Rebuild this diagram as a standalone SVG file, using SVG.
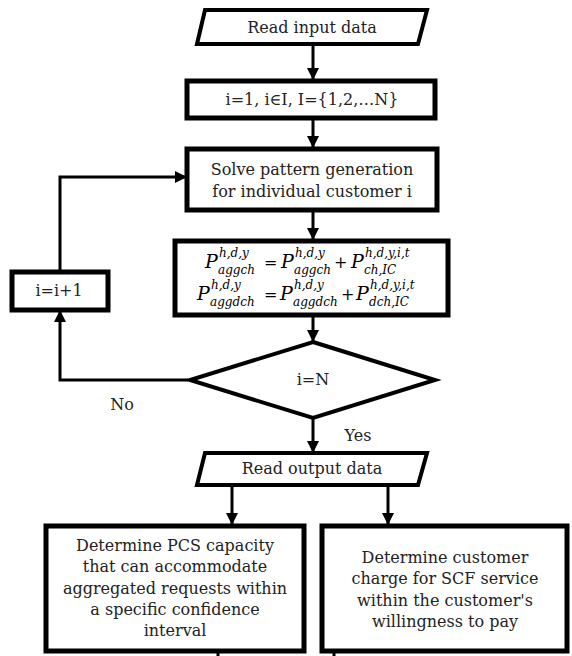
<svg xmlns="http://www.w3.org/2000/svg" width="572" height="656" viewBox="0 0 572 656">
<style>
.box{fill:#fff;stroke:#000;stroke-width:5}
.shape{fill:#fff;stroke:#000;stroke-width:4;stroke-linejoin:miter}
.line{fill:none;stroke:#000;stroke-width:3}
.t{font-family:"DejaVu Serif","Liberation Serif",serif;font-size:16px;fill:#222;text-anchor:middle}
.m{font-family:"DejaVu Serif","Liberation Serif",serif;font-style:italic;fill:#000}
.P{font-size:19px}
.s{font-size:12px}
.op{font-style:normal;font-size:16px}
</style>
<defs>
<marker id="ahb" markerWidth="12" markerHeight="12" refX="11" refY="6" orient="auto" markerUnits="userSpaceOnUse" viewBox="0 0 12 12">
<path d="M0,0 L12,6 L0,12 Z" fill="#000"/>
</marker>
</defs>
<g id="connectors">
<line class="line" x1="313" y1="44" x2="313" y2="79" marker-end="url(#ahb)"/>
<line class="line" x1="313" y1="118" x2="313" y2="147" marker-end="url(#ahb)"/>
<line class="line" x1="313" y1="210" x2="313" y2="239" marker-end="url(#ahb)"/>
<line class="line" x1="313" y1="315" x2="313" y2="341" marker-end="url(#ahb)"/>
<line class="line" x1="313" y1="418" x2="313" y2="452" marker-end="url(#ahb)"/>
<line class="line" x1="232" y1="485" x2="232" y2="524" marker-end="url(#ahb)"/>
<line class="line" x1="388" y1="485" x2="388" y2="524" marker-end="url(#ahb)"/>
<polyline class="line" points="188,380 60,380 60,311" marker-end="url(#ahb)"/>
<polyline class="line" points="60,270 60,177 186,177" marker-end="url(#ahb)"/>
<line class="line" x1="218" y1="650" x2="218" y2="656"/>
<line class="line" x1="334" y1="650" x2="334" y2="656"/>
</g>
<g id="read-input">
<polygon class="shape" points="205,10 427,10 418,44 197,44"/>
<text class="t" x="312" y="33">Read input data</text>
</g>
<g id="init">
<rect class="box" x="187" y="81" width="248" height="37"/>
<text class="t" x="312" y="105">i=1, i∈I, I={1,2,…N}</text>
</g>
<g id="solve">
<rect class="box" x="187" y="149" width="250" height="61"/>
<text class="t" x="312" y="175">Solve pattern generation</text>
<text class="t" x="312" y="197">for individual customer i</text>
</g>
<g id="aggregate">
<rect class="box" x="175" y="241" width="273" height="74"/>
<g class="m">
<text class="P" x="205" y="268">P</text>
<text class="s" x="219" y="257">h,d,y</text>
<text class="s" x="218" y="274">aggch</text>
<text class="op" x="264" y="268">=</text>
<text class="P" x="281" y="268">P</text>
<text class="s" x="295" y="257">h,d,y</text>
<text class="s" x="294" y="274">aggch</text>
<text class="op" x="334" y="268">+</text>
<text class="P" x="351" y="268">P</text>
<text class="s" x="365" y="257">h,d,y,i,t</text>
<text class="s" x="364" y="274">ch,IC</text>
<text class="P" x="197" y="300">P</text>
<text class="s" x="211" y="289">h,d,y</text>
<text class="s" x="210" y="306">aggdch</text>
<text class="op" x="264" y="300">=</text>
<text class="P" x="280" y="300">P</text>
<text class="s" x="294" y="289">h,d,y</text>
<text class="s" x="293" y="306">aggdch</text>
<text class="op" x="341" y="300">+</text>
<text class="P" x="356" y="300">P</text>
<text class="s" x="370" y="289">h,d,y,i,t</text>
<text class="s" x="369" y="306">dch,IC</text>
</g>
</g>
<g id="increment">
<rect class="box" x="12" y="272" width="96" height="38"/>
<text class="t" x="59" y="296">i=i+1</text>
</g>
<g id="decision">
<polygon class="shape" points="313,342 435,380 313,418 190,380"/>
<text class="t" x="313" y="385">i=N</text>
</g>
<text class="t" x="122" y="410">No</text>
<text class="t" x="358" y="441">Yes</text>
<g id="read-output">
<polygon class="shape" points="205,453 427,453 418,485 197,485"/>
<text class="t" x="312" y="474">Read output data</text>
</g>
<g id="pcs">
<rect class="box" x="46" y="526" width="258" height="125"/>
<text class="t" x="175" y="551">Determine PCS capacity</text>
<text class="t" x="175" y="572">that can accommodate</text>
<text class="t" x="175" y="594">aggregated requests within</text>
<text class="t" x="175" y="615">a specific confidence</text>
<text class="t" x="175" y="636">interval</text>
</g>
<g id="charge">
<rect class="box" x="322" y="526" width="245" height="125"/>
<text class="t" x="445" y="563">Determine customer</text>
<text class="t" x="445" y="584">charge for SCF service</text>
<text class="t" x="445" y="606">within the customer's</text>
<text class="t" x="445" y="627">willingness to pay</text>
</g>
</svg>
